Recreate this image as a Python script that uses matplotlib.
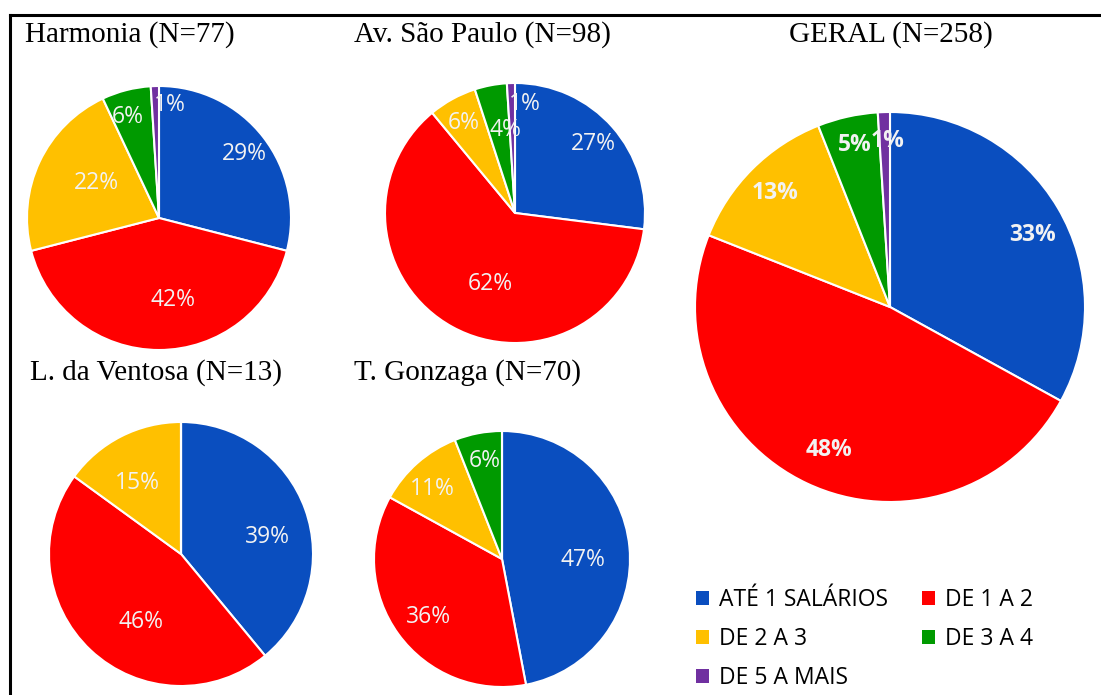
import matplotlib.pyplot as plt
from matplotlib.patches import Patch
from matplotlib.lines import Line2D
import numpy as np

W, H = 1101, 695

categories = ["ATÉ 1 SALÁRIOS", "DE 1 A 2", "DE 2 A 3", "DE 3 A 4", "DE 5 A MAIS"]
colors = ["#0A4EBF", "#FF0000", "#FFC000", "#009A00", "#7030A0"]

harmonia = [29, 42, 22, 6, 1]
sao_paulo = [27, 62, 6, 4, 1]
geral = [33, 48, 13, 5, 1]
ventosa = [39, 46, 15, 0, 0]
gonzaga = [47, 36, 11, 6, 0]

titles = ["Harmonia (N=77)", "Av. São Paulo (N=98)", "GERAL (N=258)",
          "L. da Ventosa (N=13)", "T. Gonzaga (N=70)"]

fig = plt.figure(figsize=(W / 100, H / 100), dpi=100)
fig.patch.set_facecolor("white")

# frame (only top and left edges are visible in the original)
fig.add_artist(Line2D([10 / W, 10 / W], [0, 1 - 15 / H], color="black", lw=2.2, transform=fig.transFigure))
fig.add_artist(Line2D([10 / W, 1], [1 - 15 / H, 1 - 15 / H], color="black", lw=2.2, transform=fig.transFigure))


def draw_pie(vals, cx, cy, r, dists, shifts, bold=False, fs=16.5):
    ax = fig.add_axes([(cx - r) / W, 1 - (cy + r) / H, 2 * r / W, 2 * r / H])
    wedges, _ = ax.pie(vals, colors=colors, startangle=90, counterclock=False,
                       radius=1, wedgeprops=dict(edgecolor="white", linewidth=1.5))
    ax.set_xlim(-1, 1)
    ax.set_ylim(-1, 1)
    ax.set_aspect("equal")
    ax.axis("off")
    # label placement: distance from centre and clockwise angle shift (like excel "best fit")
    for w, v, d, s in zip(wedges, vals, dists, shifts):
        if v == 0:
            continue
        a = np.deg2rad((w.theta1 + w.theta2) / 2 - s)
        ax.text(d * np.cos(a), d * np.sin(a), "%d%%" % v, ha="center", va="center",
                color="#F2F2F2", fontsize=fs, family="Open Sans",
                fontweight="bold" if bold else "normal")


draw_pie(harmonia, 159, 218, 132, [0.81, 0.63, 0.54, 0.8, 0.86], [1, -10, 4, -3, 7.5])
draw_pie(sao_paulo, 515, 213, 130, [0.8, 0.58, 0.8, 0.64, 0.84], [0, -10, -1, 4.5, 7])
draw_pie(geral, 890, 307, 195, [0.82, 0.8, 0.83, 0.85, 0.85], [4, -2, 0, 0.5, 1], bold=True)
draw_pie(ventosa, 181, 554, 132, [0.67, 0.6, 0.63, 0, 0], [9, -13, -5, 0, 0])
draw_pie(gonzaga, 502, 559, 128, [0.63, 0.73, 0.77, 0.78, 0], [6, -2, -3.5, 1, 0])

tfont = dict(family="Liberation Serif", fontsize=21, color="black", va="center")
fig.text(25 / W, 1 - 35 / H, titles[0], ha="left", **tfont)
fig.text(354 / W, 1 - 35 / H, titles[1], ha="left", **tfont)
fig.text(891 / W, 1 - 35 / H, titles[2], ha="center", **tfont)
fig.text(30 / W, 1 - 373 / H, titles[3], ha="left", **tfont)
fig.text(354 / W, 1 - 373 / H, titles[4], ha="left", **tfont)

handles = [Patch(facecolor=c, edgecolor="none") for c in colors]
order = [0, 2, 4, 1, 3]
fig.legend([handles[i] for i in order], [categories[i] for i in order],
           ncol=2, loc="upper left", bbox_to_anchor=(696 / W, 1 - 588 / H),
           frameon=False, prop=dict(family="Open Sans", size=16.5),
           handlelength=0.55, handleheight=0.55, handletextpad=0.45,
           columnspacing=1.5, labelspacing=0.65, borderaxespad=0, borderpad=0)

fig.savefig("out.png", dpi=100)
